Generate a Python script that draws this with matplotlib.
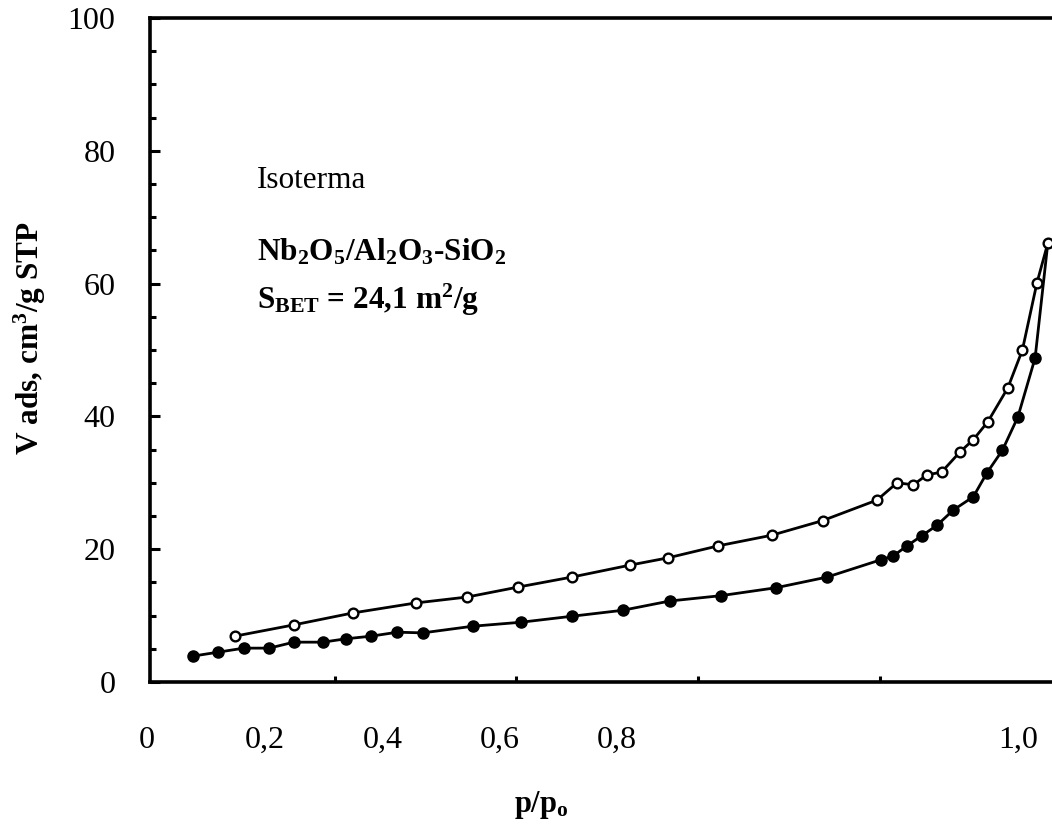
import matplotlib

matplotlib.use("Agg")
import matplotlib.pyplot as plt
import matplotlib.transforms as mtransforms

# adsorption branch (filled), p/p0 vs V ads [cm3/g STP]
ads_p = [0.044, 0.072, 0.100, 0.128, 0.155, 0.187, 0.212, 0.240, 0.269, 0.297,
         0.352, 0.405, 0.461, 0.517, 0.569, 0.625, 0.686, 0.742, 0.801, 0.815,
         0.830, 0.846, 0.863, 0.881, 0.903, 0.918, 0.935, 0.952, 0.971, 0.985]
ads_v = [3.9, 4.5, 5.1, 5.1, 6.0, 6.0, 6.5, 6.9, 7.5, 7.4,
         8.4, 9.0, 9.9, 10.8, 12.2, 13.0, 14.2, 15.8, 18.4, 19.0,
         20.5, 22.0, 23.6, 25.9, 27.9, 31.5, 34.9, 39.9, 48.8, 66.1]

# desorption branch (open)
des_p = [0.090, 0.155, 0.220, 0.289, 0.346, 0.402, 0.461, 0.525, 0.567, 0.622,
         0.681, 0.737, 0.797, 0.819, 0.837, 0.852, 0.868, 0.888, 0.903, 0.919,
         0.941, 0.957, 0.973, 0.985]
des_v = [6.9, 8.6, 10.4, 11.9, 12.8, 14.3, 15.8, 17.6, 18.7, 20.5,
         22.1, 24.3, 27.4, 30.0, 29.7, 31.2, 31.6, 34.6, 36.5, 39.2,
         44.3, 50.0, 60.1, 66.1]

x_ticks = [0.2, 0.4, 0.6, 0.8]
x_ticklabels = ["0", "0,2", "0,4", "0,6", "0,8", "1,0"]
x_ticklabel_pos = [-0.007, 0.123, 0.253, 0.382, 0.511, 0.952]
y_ticks = [0, 20, 40, 60, 80, 100]

plt.rcParams.update({
    "font.family": "Liberation Serif",
    "mathtext.fontset": "custom",
    "mathtext.rm": "Liberation Serif",
    "mathtext.it": "Liberation Serif:italic",
    "mathtext.bf": "Liberation Serif:bold",
    "mathtext.default": "bf",
})

fig = plt.figure(figsize=(10.52, 8.27), dpi=100)
ax = fig.add_axes([150 / 1052, 145 / 827, 902 / 1052, 664 / 827])

ax.plot(ads_p, ads_v, color="black", lw=2.0, marker="o", ms=8,
        mfc="black", mec="black", markevery=list(range(len(ads_p) - 1)))
ax.plot(des_p, des_v, color="black", lw=2.0, marker="o", ms=7,
        mfc="white", mec="black", mew=1.7)

ax.set_xlim(-0.0033, 0.9896)
ax.set_ylim(0, 100)

for side in ("left", "bottom", "top"):
    ax.spines[side].set_linewidth(2.6)
ax.spines["right"].set_visible(False)

ax.set_xticks(x_ticks)
ax.set_xticklabels([])
ax.tick_params(axis="x", direction="in", length=4, width=2.2)
ax.set_yticks(y_ticks)
ax.set_yticks(range(0, 101, 5), minor=True)
ax.tick_params(axis="y", which="major", direction="in", length=7, width=2.2,
               labelsize=23, pad=25)
ax.tick_params(axis="y", which="minor", direction="in", length=4, width=2.2)

# x labels sit on their own positions below the axis
trans = mtransforms.blended_transform_factory(ax.transData, ax.transAxes)
for pos, lab in zip(x_ticklabel_pos, x_ticklabels):
    ax.text(pos, -0.088, lab, transform=trans, ha="center", va="center", fontsize=23)

fig.text(541 / 1052, 1 - 805 / 827, r"p/p$_o$", ha="center", va="center",
         fontsize=22, fontweight="bold")
fig.text(30 / 1052, 1 - 338 / 827, r"V ads, cm$^3$/g STP", ha="center", va="center",
         rotation=90, fontsize=22.5, fontweight="bold")

ax.text(257 / 1052, 1 - 181 / 827, "Isoterma", transform=fig.transFigure,
        ha="left", va="center", fontsize=22.5)
ax.text(257 / 1052, 1 - 252 / 827, r"Nb$_2$O$_5$/Al$_2$O$_3$-SiO$_2$",
        transform=fig.transFigure, ha="left", va="center", fontsize=22.5, fontweight="bold")
ax.text(257 / 1052, 1 - 300 / 827, r"S$_{BET}$ = 24,1 m$^2$/g",
        transform=fig.transFigure, ha="left", va="center", fontsize=22.5, fontweight="bold")

fig.savefig("out.png", dpi=100)
